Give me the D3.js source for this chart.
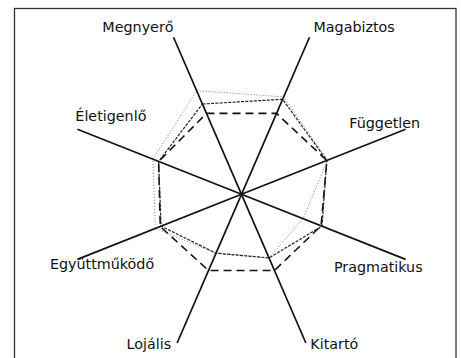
<!DOCTYPE html>
<html><head><meta charset="utf-8">
<script src="https://cdn.jsdelivr.net/npm/d3@7"></script>
<style>
html,body{margin:0;padding:0;background:#fff;}
svg{display:block;}
</style></head>
<body>
<svg id="chart" width="461" height="358"></svg>
<script>
// ---- data ----
const categories = ["Megnyerő","Magabiztos","Független","Pragmatikus","Kitartó","Lojális","Együttműködő","Életigenlő"];
const seriesDark   = [57.5, 60.5, 52, 49, 40.5, 37.5, 49, 50.5];
const seriesDashed = [51.5, 51.5, 52, 48.5, 48.5, 48.5, 49.5, 50.5];
const seriesLight  = [66, 62, 52.5, 37.5, 40.5, 37.5, 52.5, 54];
const scaleMax = 100;

// ---- layout ----
const W = 461, H = 358;
const cx = 241.5, cy = 194.3, R = 170, kx = 1.045;
const svg = d3.select("#chart");

// frame
svg.append("rect").attr("x",14.5).attr("y",8.5).attr("width",441.5).attr("height",370)
  .attr("fill","none").attr("stroke","#333").attr("stroke-width",1.3);

const rScale = d3.scaleLinear().domain([0, scaleMax]).range([0, R]);
const aScale = d3.scaleLinear().domain([0, categories.length])
  .range([-Math.PI/8, 2*Math.PI - Math.PI/8]);

const px = (i, r) => cx + kx * r * Math.sin(aScale(i));
const py = (i, r) => cy - r * Math.cos(aScale(i));

// spokes (clipped at bottom band)
const yMax = 343;
function spokeLen(i){
  const c = Math.cos(aScale(i));
  let r = R;
  if (c < 0) r = Math.min(R, (yMax - cy) / -c);
  return r;
}
const g = svg.append("g");

// series polygons
const line = d3.line()
  .x((d,i) => px(i, rScale(d)))
  .y((d,i) => py(i, rScale(d)))
  .curve(d3.curveLinearClosed);

g.append("path").datum(seriesLight).attr("d", line)
  .attr("fill","none").attr("stroke","#8a8a8a").attr("stroke-width",1)
  .attr("stroke-dasharray","1.2,1.8");
g.append("path").datum(seriesDashed).attr("d", line)
  .attr("fill","none").attr("stroke","#111").attr("stroke-width",1.6)
  .attr("stroke-dasharray","8,5");
g.append("path").datum(seriesDark).attr("d", line)
  .attr("fill","none").attr("stroke","#222").attr("stroke-width",1.2)
  .attr("stroke-dasharray","3,1.3");

g.selectAll("line.spoke").data(categories).join("line")
  .attr("class","spoke")
  .attr("x1",cx).attr("y1",cy)
  .attr("x2",(d,i)=>px(i, spokeLen(i)))
  .attr("y2",(d,i)=>py(i, spokeLen(i)))
  .attr("stroke","#111").attr("stroke-width",1.7);

// labels
const labelPlace = [
  {dx:0,   dy:-5.5, anchor:"end"},
  {dx:4,   dy:-5.5, anchor:"start"},
  {dx:14.5,dy:-1.7, anchor:"end"},
  {dx:17,  dy:13,   anchor:"end"},
  {dx:4.5, dy:6.3,  anchor:"start"},
  {dx:-6,  dy:6.3,  anchor:"end"},
  {dx:-27.4,dy:10,  anchor:"start"},
  {dx:-2,  dy:-8.5, anchor:"start"}
];
g.selectAll("text.lbl").data(categories).join("text")
  .attr("class","lbl")
  .attr("x",(d,i)=>px(i, spokeLen(i)) + labelPlace[i].dx)
  .attr("y",(d,i)=>py(i, spokeLen(i)) + labelPlace[i].dy)
  .attr("text-anchor",(d,i)=>labelPlace[i].anchor)
  .attr("font-family","'DejaVu Sans', Verdana, sans-serif")
  .attr("font-size","14.3px")
  .attr("fill","#111")
  .text(d=>d);
</script>
</body></html>
